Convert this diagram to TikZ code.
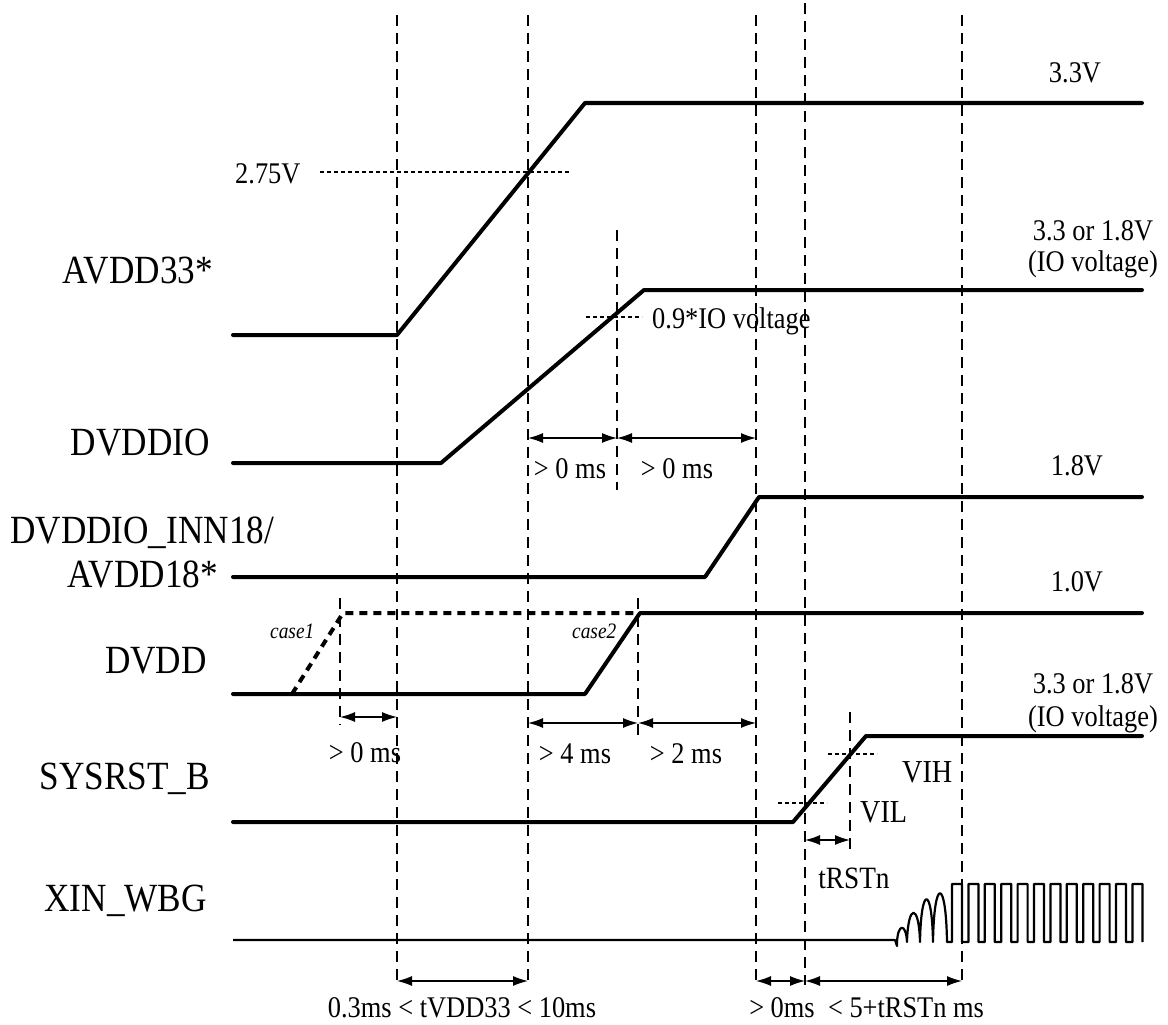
\documentclass[tikz,border=0pt]{standalone}
\usepackage{fontspec}
\setmainfont{Liberation Serif}[FakeStretch=0.88]
\usetikzlibrary{arrows.meta}
\begin{document}
\begin{tikzpicture}[x=1pt,y=-1pt,
  sig/.style={line width=4pt, line join=round, line cap=round},
  guide/.style={line width=1.3pt, dash pattern=on 11pt off 7pt},
  refline/.style={line width=1.5pt, dash pattern=on 4pt off 3pt},
  dim/.style={line width=1.3pt, {Latex[length=15pt,width=10pt]}-{Latex[length=15pt,width=10pt]}},
  sname/.style={font=\fontsize{40}{44}\selectfont, inner sep=0pt, anchor=base east},
  val/.style={font=\fontsize{30}{34}\selectfont, inner sep=0pt, anchor=base},
  valw/.style={font=\fontsize{30}{34}\selectfont, inner sep=0pt, anchor=base west},
  casel/.style={font=\fontsize{22}{24}\selectfont\itshape, inner sep=0pt, anchor=base west}]
\useasboundingbox (0,0) rectangle (1168,1025);

% vertical guide lines
\draw[guide] (397,15) -- (397,985);
\draw[guide] (528,15) -- (528,985);
\draw[guide] (617,230) -- (617,490);
\draw[guide] (756,15) -- (756,985);
\draw[guide] (805,3) -- (805,985);
\draw[guide] (962,15) -- (962,985);
\draw[guide] (340,598) -- (340,725);
\draw[guide] (638,598) -- (638,740);
\draw[guide] (850,712) -- (850,852);

% signal names
\node[sname] (nA33) at (213,283) {AVDD33*};
\node[sname] (nDIO) at (210,455) {DVDDIO};
\node[sname, anchor=base west] (nINN) at (10,543) {DVDDIO\_INN18/};
\node[sname] (nA18) at (218,587) {AVDD18*};
\node[sname] (nDVDD) at (207,673) {DVDD};
\node[sname] (nRST) at (210,789) {SYSRST\_B};
\node[sname] (nXIN) at (207,911) {XIN\_WBG};

% AVDD33
\draw[sig] (233,335) -- (397,335) -- (585,103) -- (1142,103);
\draw[refline] (320,172) -- (570,172);
\node[valw] (v275) at (235,183) {2.75V};
\node[val] (v33) at (1075,83) {3.3V};

% DVDDIO
\draw[sig] (233,463) -- (441,463) -- (644,290) -- (1142,290);
\draw[refline] (586,317) -- (642,317);
\node[valw] (v09) at (652,328) {0.9*IO voltage};
\node[val] (vio1) at (1093,240) {3.3 or 1.8V};
\node[val] (vio1b) at (1093,271) {(IO voltage)};
\draw[dim] (528,438) -- (617,438);
\draw[dim] (617,438) -- (756,438);
\node[val] (t1) at (570,478) {> 0 ms};
\node[val] (t2) at (677,478) {> 0 ms};

% DVDDIO_INN18 / AVDD18
\draw[sig] (233,577) -- (705,577) -- (759,497) -- (1142,497);
\node[val] (v18) at (1077,475) {1.8V};

% DVDD
\draw[sig] (233,694) -- (585,694) -- (640,613) -- (1142,613);
\draw[line width=4pt, dash pattern=on 8pt off 6pt, line join=round] (292,694) -- (343,613) -- (638,613);
\node[casel] (c1) at (270,638) {case1};
\node[casel] (c2) at (572,638) {case2};
\node[val] (v10) at (1077,591) {1.0V};
\draw[dim] (340,717) -- (397,717);
\node[val] (t3) at (365,762) {> 0 ms};
\draw[dim] (528,723) -- (638,723);
\draw[dim] (638,723) -- (756,723);
\node[val] (t4) at (575,763) {> 4 ms};
\node[val] (t5) at (686,763) {> 2 ms};

% SYSRST_B
\draw[sig] (233,822) -- (793,822) -- (866,736) -- (1142,736);
\draw[refline] (778,803) -- (827,803);
\draw[refline] (828,754) -- (877,754);
\node[valw, font=\fontsize{32}{34}\selectfont] (vih) at (902,782) {VIH};
\node[valw, font=\fontsize{32}{34}\selectfont] (vil) at (860,822) {VIL};
\node[val] (vio2) at (1093,693) {3.3 or 1.8V};
\node[val] (vio2b) at (1093,726) {(IO voltage)};
\draw[dim] (805,840) -- (850,840);
\node[val, font=\fontsize{31}{34}\selectfont] (trst) at (854,888) {tRSTn};

% XIN_WBG
\draw[line width=2.2pt, line join=round]
  (233,940) -- (895,940) -- (897,946) -- (897,942)
  .. controls (898,923) and (906,923) .. (907,942)
  .. controls (908,903) and (919,903) .. (920,942)
  .. controls (921,885) and (932,885) .. (933,942)
  .. controls (934,877) and (946,877) .. (947,942)
  -- (952,942)
  \foreach \k in {0,...,11}{
    -- ({952+16.4*\k},942) -- ({952+16.4*\k},884) -- ({962+16.4*\k},884) -- ({962+16.4*\k},942)
  };

% bottom timing
\draw[dim] (397,981) -- (528,981);
\node[val] (tv) at (462,1017) {0.3ms < tVDD33 < 10ms};
\draw[dim] (756,981) -- (805,981);
\draw[dim] (805,981) -- (962,981);
\node[val] (tb1) at (782,1017) {> 0ms};
\node[val] (tb2) at (906,1017) {< 5+tRSTn ms};
\end{tikzpicture}
\end{document}
